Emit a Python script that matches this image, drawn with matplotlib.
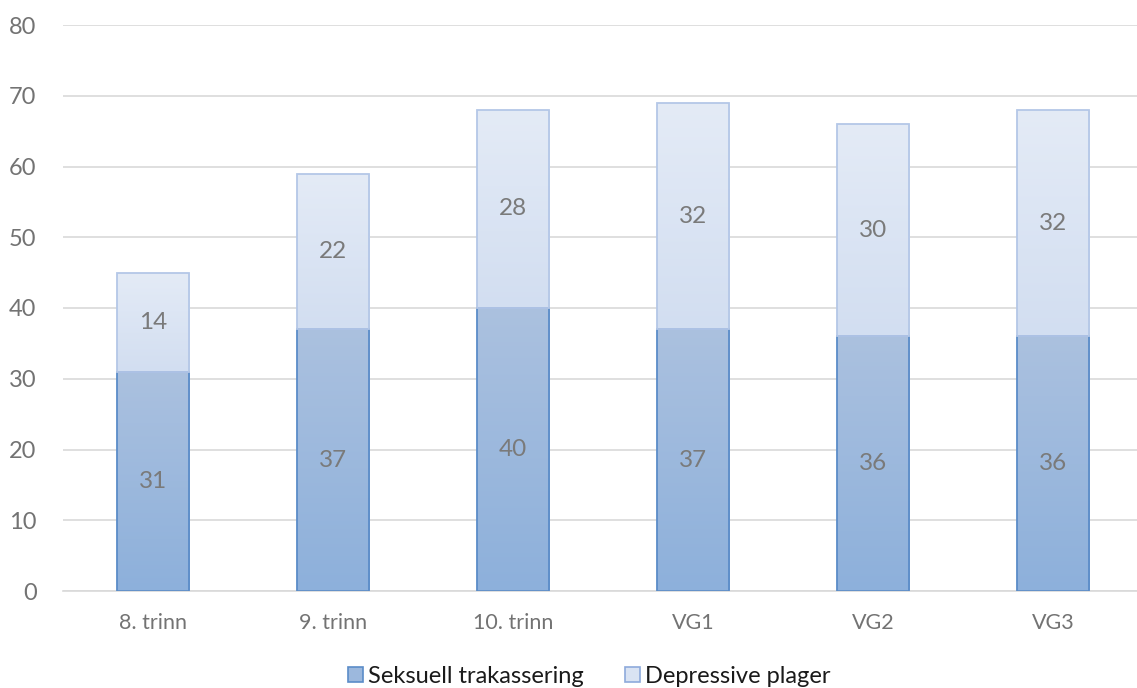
import numpy as np
import matplotlib
matplotlib.use('Agg')
import matplotlib.pyplot as plt
from matplotlib.colors import LinearSegmentedColormap
from matplotlib.patches import Patch

# data
kategorier = ['8. trinn', '9. trinn', '10. trinn', 'VG1', 'VG2', 'VG3']
seksuell = [31, 37, 40, 37, 36, 36]
depressive = [14, 22, 28, 32, 30, 32]
serie_navn = ['Seksuell trakassering', 'Depressive plager']

plt.rcParams['font.family'] = ['Lato', 'DejaVu Sans']

fig = plt.figure(figsize=(11.37, 6.88), dpi=100)
# plottet går litt ut over høyre kant, slik som i originalen
ax = fig.add_axes([63 / 1137, 97 / 688, 1080 / 1137, 566 / 688])

x = np.arange(len(kategorier))
bredde = 0.403

cmap_mork = LinearSegmentedColormap.from_list('mork', ['#8db0db', '#abc1df'])
cmap_lys = LinearSegmentedColormap.from_list('lys', ['#d2def1', '#e4ebf6'])
grad = np.linspace(0, 1, 256).reshape(-1, 1)


def gradient_bars(bars, cmap, kant):
    for b in bars:
        x0, y0 = b.get_x(), b.get_y()
        w, h = b.get_width(), b.get_height()
        im = ax.imshow(grad, cmap=cmap, aspect='auto', origin='lower',
                       extent=[x0, x0 + w, y0, y0 + h], zorder=2)
        im.set_clip_path(b)
        b.set_facecolor('none')
        b.set_edgecolor(kant)
        b.set_linewidth(1.3)
        b.set_zorder(3)


b1 = ax.bar(x, seksuell, bredde, zorder=3)
b2 = ax.bar(x, depressive, bredde, bottom=seksuell, zorder=3)
gradient_bars(b1, cmap_mork, '#5b8cc8')
gradient_bars(b2, cmap_lys, '#b4c7e7')

# dataetiketter
for i in range(len(kategorier)):
    ax.text(x[i], seksuell[i] / 2, str(seksuell[i]), ha='center', va='center',
            fontsize=17.5, color='#7a7a7a', zorder=4)
    ax.text(x[i], seksuell[i] + depressive[i] / 2, str(depressive[i]),
            ha='center', va='center', fontsize=17.5, color='#7a7a7a', zorder=4)

ax.set_xlim(-0.5, len(kategorier) - 0.5)
ax.set_ylim(0, 80)
ax.set_yticks(range(0, 81, 10))
ax.set_xticks(x)
ax.set_xticklabels(kategorier)
ax.tick_params(axis='y', length=0, labelsize=17, labelcolor='#737373', pad=19)
ax.tick_params(axis='x', length=0, labelsize=15.5, labelcolor='#737373', pad=16)
ax.yaxis.grid(True, color='#d9d9d9', linewidth=1.2)
ax.set_axisbelow(True)
for s in ['top', 'right', 'left']:
    ax.spines[s].set_visible(False)
ax.spines['bottom'].set_color('#d9d9d9')
ax.spines['bottom'].set_linewidth(1.2)

handles = [Patch(facecolor='#9cb8dd', edgecolor='#5b8cc8', linewidth=1.2),
           Patch(facecolor='#d9e3f3', edgecolor='#8eaadb', linewidth=1.2)]
leg = fig.legend(handles, serie_navn, loc='center', bbox_to_anchor=(589 / 1137, 0.017),
                 ncol=2, frameon=False, fontsize=17, handlelength=0.65,
                 handleheight=0.65, handletextpad=0.2, columnspacing=1.75)
for t in leg.get_texts():
    t.set_color('#1a1a1a')

fig.savefig('out.png', dpi=100)
